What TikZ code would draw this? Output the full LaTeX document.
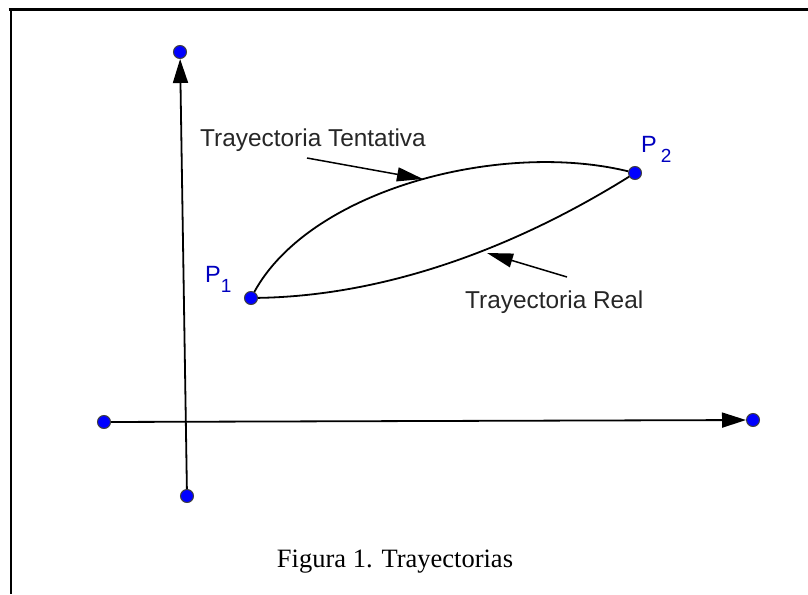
\documentclass[tikz,border=0pt]{standalone}
\usepackage{fontspec}
\setmainfont{Liberation Serif}
\setsansfont{Liberation Sans}
\usetikzlibrary{arrows.meta}

\begin{document}
\begin{tikzpicture}[x=1pt,y=-1pt,
  punto/.style={circle,fill=blue,draw=black!75,line width=1pt,inner sep=0pt,minimum size=13pt},
  eje/.style={line width=1.8pt,-{Triangle[length=24pt,width=15pt]}},
  curva/.style={line width=1.8pt},
  flecha/.style={line width=1.5pt,-{Triangle[length=26pt,width=14pt]}},
  etiqueta/.style={font=\sffamily\fontsize{24.4}{27}\selectfont,text=black!85,inner sep=0pt,anchor=base west},
  nombre/.style={font=\sffamily\fontsize{23.5}{26}\selectfont,text=blue!75!black,inner sep=0pt,anchor=base west}]
\useasboundingbox (0,0) rectangle (808,594);
% marco
\draw[line width=3pt] (8.5,9.5) -- (808,9.5);
\draw[line width=2pt] (10.5,9.5) -- (10.5,594);

% ejes
\node[punto] (Ya) at (187,496) {};
\node[punto] (Yb) at (180,52) {};
\node[punto] (Xa) at (104,422) {};
\node[punto] (Xb) at (753,420) {};
\draw[eje] (Ya) -- (Yb);
\draw[eje] (Xa) -- (Xb);

% trayectorias
\node[punto] (P1) at (251,298) {};
\node[punto] (P2) at (635,173) {};
\draw[curva] (P1) .. controls (310,190) and (500,140) .. (P2);
\draw[curva] (P1) .. controls (377,296) and (505,254) .. (P2);

\node[nombre] (n1) at (205,282) {P\raisebox{-10pt}{\fontsize{19}{19}\selectfont 1}};
\node[nombre] (n2) at (641,152) {P\,\raisebox{-10pt}{\fontsize{19}{19}\selectfont 2}};

% flechas de las etiquetas
\node[etiqueta] (lt) at (200,146) {Trayectoria Tentativa};
\node[etiqueta] (lr) at (465,308) {Trayectoria Real};
\coordinate (tA) at (307,158);
\coordinate (tB) at (423,179);
\coordinate (rA) at (567,277);
\coordinate (rB) at (487,253);
\draw[flecha] (tA) -- (tB);
\draw[flecha] (rA) -- (rB);

\node[font=\fontsize{26.5}{30}\selectfont,anchor=base,inner sep=0pt] (cap) at (395,567) {Figura 1. Trayectorias};
\end{tikzpicture}
\end{document}
